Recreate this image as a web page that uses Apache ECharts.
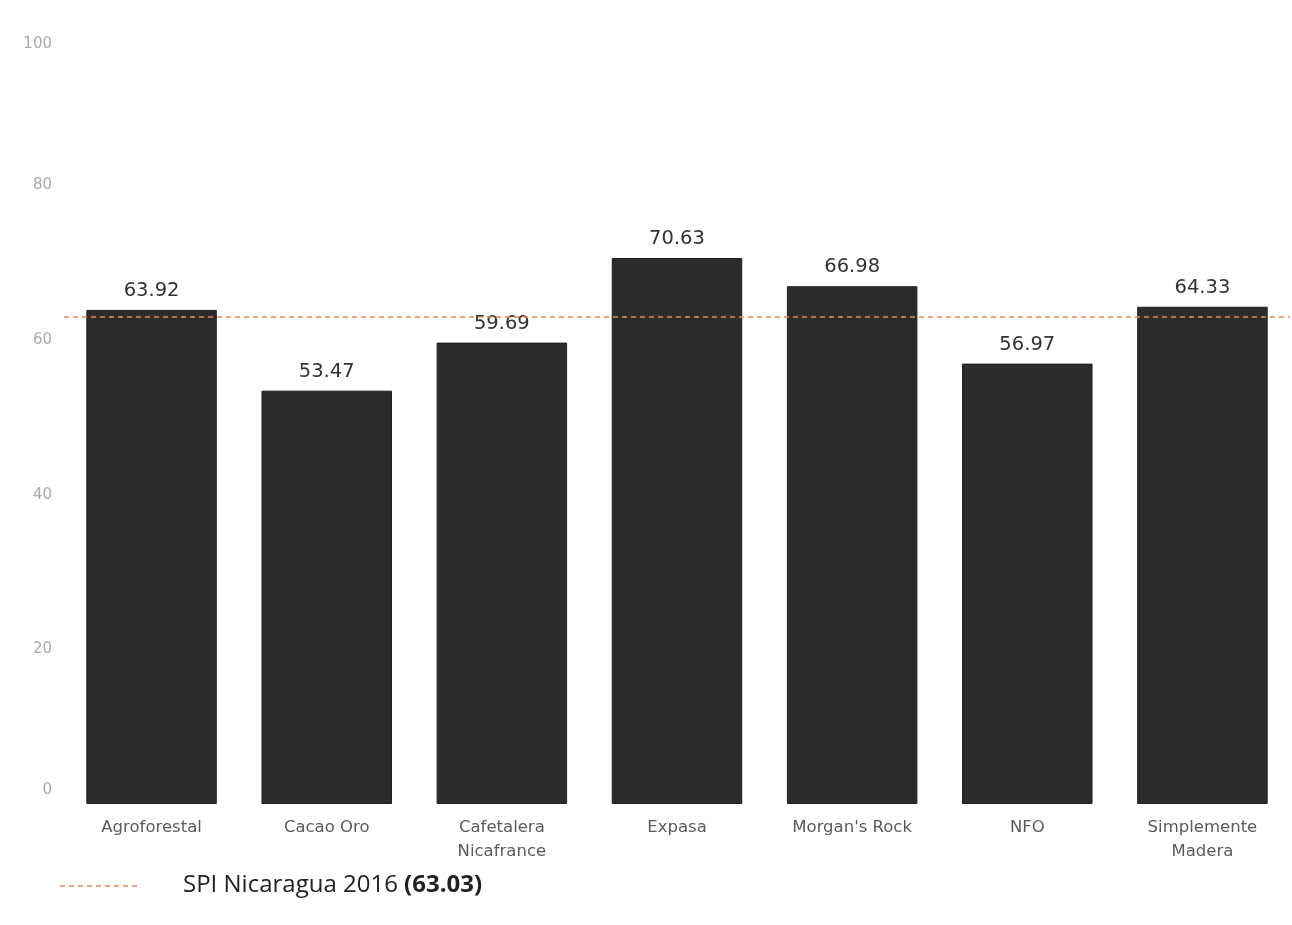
<!DOCTYPE html>
<html>
<head>
<meta charset="utf-8">
<style>
html,body{margin:0;padding:0;background:#fff;}
#chart{width:1292px;height:925px;}
</style>
<script src="https://cdn.jsdelivr.net/npm/echarts@6/dist/echarts.min.js"></script>
</head>
<body>
<div id="chart"></div>
<script>
const categories = ["Agroforestal", "Cacao Oro", "Cafetalera\nNicafrance", "Expasa", "Morgan's Rock", "NFO", "Simplemente\nMadera"];
const values = [63.92, 53.47, 59.69, 70.63, 66.98, 56.97, 64.33];
const spiLabel = "SPI Nicaragua 2016";
const spiValue = 63.03;
const yTicks = [0, 20, 40, 60, 80, 100];

const yLabelStyle = { color: '#aaa', fontFamily: 'DejaVu Sans', fontSize: 15 };

const chart = echarts.init(document.getElementById('chart'));
chart.setOption({
  animation: false,
  grid: { left: 64, right: 2, top: 31, bottom: 121 },
  xAxis: {
    type: 'category',
    data: categories,
    axisLine: { show: false },
    axisTick: { show: false },
    axisLabel: {
      color: '#5a5a5a',
      fontFamily: 'DejaVu Sans',
      fontSize: 16.5,
      lineHeight: 24,
      margin: 12,
      interval: 0
    }
  },
  yAxis: {
    type: 'value',
    min: yTicks[0],
    max: yTicks[yTicks.length - 1],
    interval: 20,
    axisLine: { show: false },
    axisTick: { show: false },
    splitLine: { show: false },
    axisLabel: {
      color: '#aaa',
      fontFamily: 'DejaVu Sans',
      fontSize: 15,
      margin: 12,
      formatter: v => v === yTicks[yTicks.length - 1] ? '{t|' + v + '}' : (v === yTicks[0] ? '{b|' + v + '}' : '{m|' + v + '}'),
      rich: {
        t: Object.assign({ padding: [26, 0, 0, 0] }, yLabelStyle),
        b: Object.assign({ padding: [0, 0, 28, 0] }, yLabelStyle),
        m: Object.assign({}, yLabelStyle)
      }
    }
  },
  series: [{
    type: 'bar',
    data: values,
    barCategoryGap: '25.5%',
    itemStyle: { color: '#2c2c2c', borderColor: '#1f1f1f', borderWidth: 1 },
    label: {
      show: true,
      position: 'top',
      distance: 9,
      color: '#333',
      fontFamily: 'DejaVu Sans',
      fontSize: 19.5,
      formatter: p => p.value.toFixed(2)
    },
    markLine: {
      silent: true,
      symbol: 'none',
      label: { show: false },
      emphasis: { disabled: true },
      lineStyle: { color: '#e5865a', type: [5, 4], width: 1.6, opacity: 1 },
      data: [{ yAxis: spiValue }]
    }
  }],
  graphic: [
    {
      type: 'line',
      shape: { x1: 60, y1: 886, x2: 140, y2: 886 },
      style: { stroke: '#e5865a', lineWidth: 1.6, lineDash: [5, 4] }
    },
    {
      type: 'text',
      left: 183,
      top: 873,
      style: {
        text: '{n|' + spiLabel + ' }{b|(' + spiValue.toFixed(2) + ')}',
        rich: {
          n: { fontFamily: 'Open Sans', fontSize: 24, fill: '#222' },
          b: { fontFamily: 'Open Sans', fontSize: 24, fontWeight: 'bold', fill: '#222' }
        }
      }
    }
  ]
});
</script>
</body>
</html>
